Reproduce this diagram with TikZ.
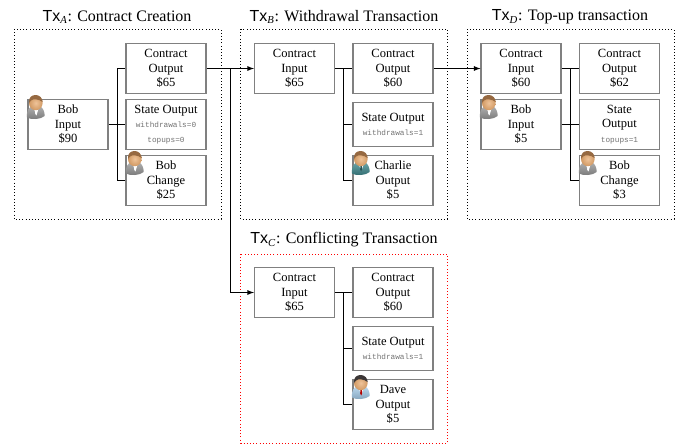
\documentclass[tikz,border=0pt]{standalone}
\usepackage{fontspec}
\setmainfont{Liberation Serif}
\setsansfont{Liberation Sans}
\setmonofont{Liberation Mono}
\usetikzlibrary{arrows}

\newcommand{\txname}[1]{\textsf{Tx}\textsubscript{\textit{#1}}}
\newcommand{\statevar}[1]{{\ttfamily\fontsize{5.8}{10.9}\selectfont\color{black!55}#1}}

\definecolor{skin}{RGB}{232,170,110}
\definecolor{bobshirt}{RGB}{150,150,150}
\definecolor{bobhair}{RGB}{150,105,65}
\definecolor{charlieshirt}{RGB}{60,135,140}
\definecolor{davehair}{RGB}{60,55,55}
\definecolor{daveshirt}{RGB}{165,205,235}

\tikzset{
  txbox/.style={draw=black!50,line width=0.8pt,fill=white,minimum width=60pt,minimum height=37.5pt,
    inner sep=0pt,align=center,font=\fontsize{9.4}{10.9}\selectfont},
  statebox/.style={txbox,minimum height=33pt},
  txframe/.style={line width=0.6pt,dash pattern=on 0.6pt off 1.8pt},
  txtitle/.style={font=\fontsize{12}{14}\selectfont},
  wire/.style={line width=0.7pt},
  pics/person/.style n args={3}{code={
    \shade[top color=#1!75!white,bottom color=#1!80!black] (0,22.5) .. controls (-0.8,15) and (2.5,12) .. (5.5,11) -- (12.5,11)
       .. controls (16,12.5) and (18,17) .. (17.6,21) .. controls (14,24.5) and (4,25) .. (0,22.5) -- cycle;
    \fill[white] (6,12) -- (12,12) -- (9.5,20) -- cycle;
    \fill[#3] (8.4,13) -- (9.9,13) -- (10.1,18.5) -- (9.2,20.5) -- (8.2,18.5) -- cycle;
    \shade[inner color=skin!70!white,outer color=skin!90!black] (8.8,8) ellipse (6.8 and 7.2);
    \fill[#2] (2,8) .. controls (1.5,2) and (5,0) .. (8.8,0) .. controls (12.5,0) and (15.6,3) .. (15.6,7)
       .. controls (12,4) and (6,3.5) .. (4,5.5) .. controls (3.5,6.5) and (3,7) .. (2,8) -- cycle;
  }}
}

\begin{document}
\begin{tikzpicture}[>=latex,x=0.75pt,y=-0.75pt]
  \useasboundingbox (0,0) rectangle (685,447);

  \draw[txframe] (14,29) rectangle (221,219);
  \draw[txframe] (240.5,29) rectangle (447.5,219);
  \draw[txframe] (467,29) rectangle (674,219);
  \draw[txframe,red] (240.5,254) rectangle (447.5,443);

  \node[txtitle] (atitle) at (117,17) {\txname{A}: Contract Creation};
  \node[txtitle] (btitle) at (344,17) {\txname{B}: Withdrawal Transaction};
  \node[txtitle] (dtitle) at (570,17) {\txname{D}: Top-up transaction};
  \node[txtitle] (ctitle) at (344,240) {\txname{C}: Conflicting Transaction};

  % creation
  \node[txbox] (ainput) at (68,124.5) {Bob\\Input\\\$90};
  \node[txbox] (acontract) at (166,68.5) {Contract\\Output\\\$65};
  \node[txbox] (astate) at (166,124.5) {State Output\\\statevar{withdrawals=0}\\\statevar{topups=0}};
  \node[txbox] (achange) at (166,180.5) {Bob\\Change\\\$25};

  % withdrawal
  \node[txbox] (binput) at (294.5,68.5) {Contract\\Input\\\$65};
  \node[txbox] (bcontract) at (393,68.5) {Contract\\Output\\\$60};
  \node[statebox] (bstate) at (393,124.5) {State Output\\\statevar{withdrawals=1}};
  \node[txbox] (bcharlie) at (393,180.5) {Charlie\\Output\\\$5};

  % top-up
  \node[txbox] (dinput) at (521,68.5) {Contract\\Input\\\$60};
  \node[txbox] (dbob) at (521,124.5) {Bob\\Input\\\$5};
  \node[txbox] (dcontract) at (619.5,68.5) {Contract\\Output\\\$62};
  \node[txbox] (dstate) at (619.5,124.5) {State\\Output\\\statevar{topups=1}};
  \node[txbox] (dchange) at (619.5,180.5) {Bob\\Change\\\$3};

  % conflict
  \node[txbox] (cinput) at (294.5,292.5) {Contract\\Input\\\$65};
  \node[txbox] (ccontract) at (393,292.5) {Contract\\Output\\\$60};
  \node[statebox] (cstate) at (393,348.5) {State Output\\\statevar{withdrawals=1}};
  \node[txbox] (cdave) at (393,404.5) {Dave\\Output\\\$5};

  \coordinate (abus) at (117,124.5);
  \coordinate (bbus) at (343.5,68.5);
  \coordinate (dbus) at (570,68.5);
  \coordinate (cbus) at (343.5,292.5);
  \coordinate (fork) at (230,68.5);

  \draw[wire] (ainput.east) -- (astate.west);
  \draw[wire] (abus) |- (acontract.west);
  \draw[wire] (abus) |- (achange.west);

  \draw[wire] (binput.east) -- (bcontract.west);
  \draw[wire] (bbus) |- (bstate.west);
  \draw[wire] (bbus) |- (bcharlie.west);

  \draw[wire] (dinput.east) -- (dcontract.west);
  \draw[wire] (dbob.east) -- (dstate.west);
  \draw[wire] (dbus) |- (dchange.west);

  \draw[wire] (cinput.east) -- (ccontract.west);
  \draw[wire] (cbus) |- (cstate.west);
  \draw[wire] (cbus) |- (cdave.west);

  \draw[wire,->] (acontract.east) -- (binput.west);
  \draw[wire,->] (fork) |- (cinput.west);
  \draw[wire,->] (bcontract.east) -- (dinput.west);

  \pic at (27,95) {person={bobshirt}{bobhair}{white}};
  \pic at (126,151) {person={bobshirt}{bobhair}{white}};
  \pic at (352,151) {person={charlieshirt}{bobhair}{charlieshirt!60!black}};
  \pic at (480,95) {person={bobshirt}{bobhair}{white}};
  \pic at (579,151) {person={bobshirt}{bobhair}{white}};
  \pic at (352,375) {person={daveshirt}{davehair}{red!70!black}};
\end{tikzpicture}
\end{document}
